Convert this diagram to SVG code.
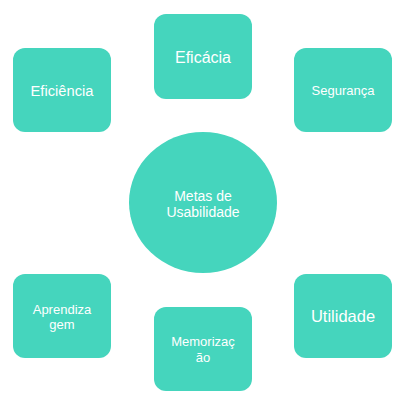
<svg xmlns="http://www.w3.org/2000/svg" width="408" height="405" viewBox="0 0 408 405">
<style>
.n{fill:#45d5bd}
text{fill:#fff;font-family:"Liberation Sans",Arial,sans-serif;text-anchor:middle}
</style>
<rect width="408" height="405" fill="#fff"/>
<g id="connectors"></g>
<g id="center"><ellipse class="n" cx="203" cy="202.5" rx="74" ry="70.5"/><text font-size="14"><tspan x="203" y="200.5">Metas de</tspan><tspan x="203" y="217">Usabilidade</tspan></text></g>
<g id="eficacia"><rect class="n" x="154" y="14" width="98" height="85" rx="12"/><text x="203" y="63" font-size="16">Eficácia</text></g>
<g id="eficiencia"><rect class="n" x="13" y="48" width="98" height="84" rx="12"/><text x="62" y="96" font-size="14.7">Eficiência</text></g>
<g id="seguranca"><rect class="n" x="294" y="48" width="98" height="84" rx="12"/><text x="343" y="95" font-size="13">Segurança</text></g>
<g id="aprendizagem"><rect class="n" x="13" y="274" width="98" height="84" rx="12"/><text font-size="13"><tspan x="62" y="313.5">Aprendiza</tspan><tspan x="62" y="328.5">gem</tspan></text></g>
<g id="memorizacao"><rect class="n" x="154" y="307" width="98" height="84" rx="12"/><text font-size="13"><tspan x="203" y="346">Memorizaç</tspan><tspan x="203" y="361.5">ão</tspan></text></g>
<g id="utilidade"><rect class="n" x="294" y="274" width="98" height="84" rx="12"/><text x="343" y="322" font-size="16.5">Utilidade</text></g>
</svg>
